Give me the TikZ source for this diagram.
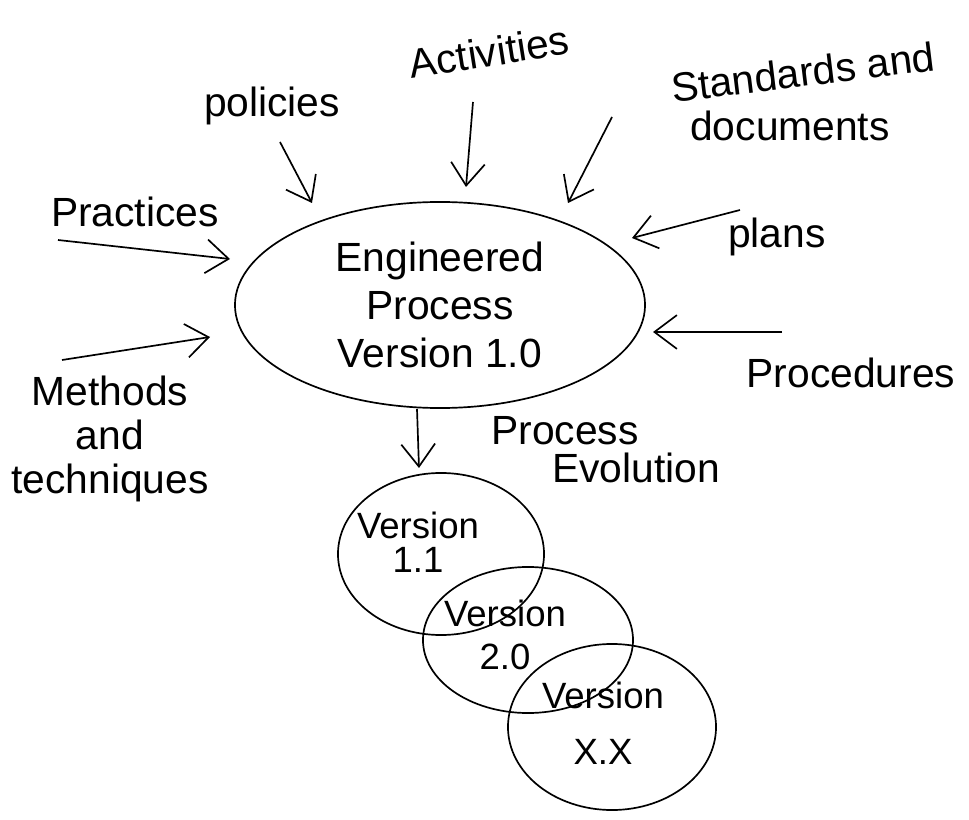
\documentclass[tikz,border=0pt]{standalone}
\usepackage{fontspec}
\setmainfont{Liberation Sans}
\usepackage{tikz}
\usetikzlibrary{shapes.geometric, arrows.meta}

\begin{document}
\begin{tikzpicture}[
    x=0.025cm, y=-0.025cm,
    lbl/.style={font=\fontsize{29}{34}\selectfont, inner sep=0pt, align=center},
    ver/.style={font=\fontsize{26}{24}\selectfont, inner sep=0pt, align=center},
    blob/.style={ellipse, draw, line width=1.2pt},
    arrow/.style={-{Straight Barb[length=16pt, width=24pt, line width=1.2pt]}, line width=1.2pt}
]
\useasboundingbox (0,0) rectangle (969,820);

% Central process
\node[blob, lbl, minimum width=10.25cm, minimum height=5.15cm] (engproc) at (440,305) {Engineered\\Process\\Version 1.0};

% Inputs on top
\node[lbl] (policies) at (272,106) {policies};
\node[lbl, rotate=9] (activities) at (489,52) {Activities};
\node[lbl, rotate=7] (standards) at (803,72) {Standards and};
\node[lbl] (documents) at (790,126) {documents};

% Inputs on the left
\node[lbl] (practices) at (135,212) {Practices};
\node[lbl, font=\fontsize{29}{31}\selectfont] (methods) at (110,439) {Methods\\and\\techniques};

% Inputs on the right
\node[lbl] (plans) at (777,237) {plans};
\node[lbl] (procedures) at (851,373) {Procedures};

% Arrow ends
\coordinate (policiestail) at (280,142);
\coordinate (policieshead) at (312,203);
\coordinate (activitiestail) at (473,102);
\coordinate (activitieshead) at (466,187);
\coordinate (standardstail) at (612,117);
\coordinate (standardshead) at (568,203);
\coordinate (practicestail) at (58,240);
\coordinate (practiceshead) at (230,259);
\coordinate (methodstail) at (62,360);
\coordinate (methodshead) at (210,337);
\coordinate (planstail) at (740,210);
\coordinate (planshead) at (632,238);
\coordinate (procedurestail) at (782,332);
\coordinate (procedureshead) at (653,332);

% Arrows
\draw[arrow] (policiestail) -- (policieshead);
\draw[arrow] (activitiestail) -- (activitieshead);
\draw[arrow] (standardstail) -- (standardshead);
\draw[arrow] (practicestail) -- (practiceshead);
\draw[arrow] (methodstail) -- (methodshead);
\draw[arrow] (planstail) -- (planshead);
\draw[arrow] (procedurestail) -- (procedureshead);

% Versions
\node[blob, minimum width=5.15cm, minimum height=4.05cm] (v11) at (441,554) {};
\node[blob, minimum width=5.25cm, minimum height=3.65cm] (v20) at (528,640) {};
\node[blob, minimum width=5.2cm, minimum height=4.15cm] (vxx) at (612,727) {};
\node[ver] (v11text) at (418,542) {Version\\1.1};
\node[ver] (v20text) at (505,635) {Version\\[6pt]2.0};
\node[ver] (vxxtext) at (603,723) {Version\\[16pt]X.X};

% Evolution
\coordinate (evotail) at (engproc.south -| 417,0);
\coordinate (evohead) at (419,468);
\draw[arrow] (evotail) -- (evohead);
\node[lbl] (evo1) at (565,431) {Process};
\node[lbl] (evo2) at (636,468) {Evolution};

\end{tikzpicture}
\end{document}
